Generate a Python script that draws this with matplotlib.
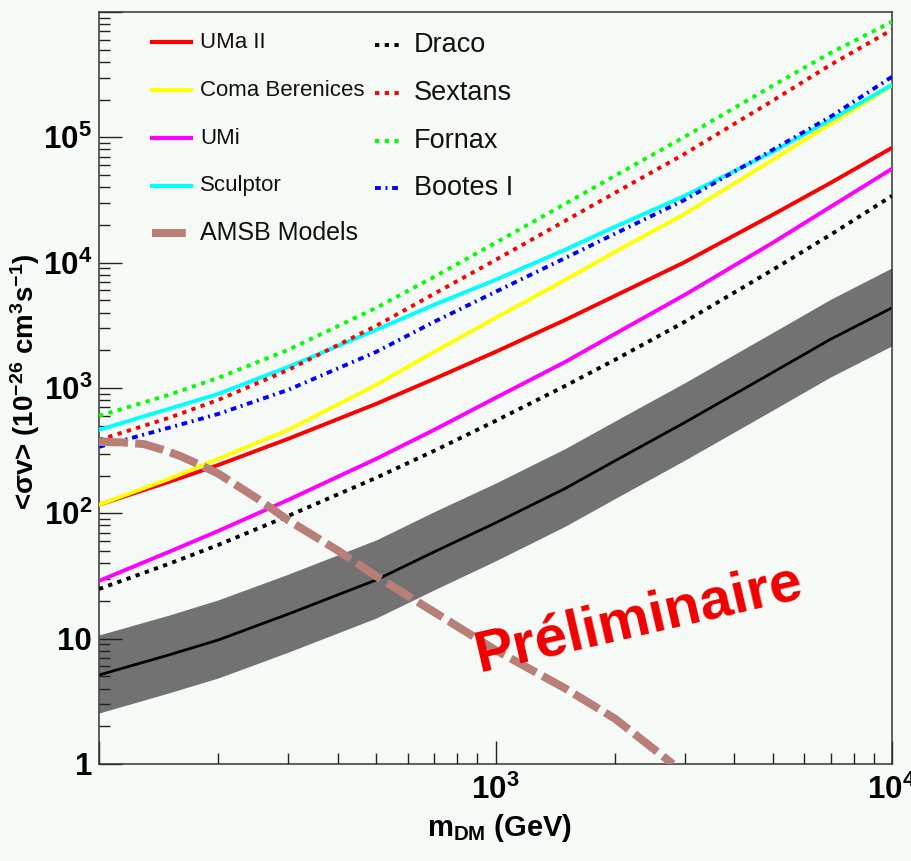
import numpy as np
import matplotlib
matplotlib.use("Agg")
import matplotlib.pyplot as plt
from matplotlib.ticker import FixedLocator, FixedFormatter, LogLocator, NullFormatter

plt.rcParams['font.family'] = ['Liberation Sans', 'DejaVu Sans']
plt.rcParams['mathtext.fontset'] = 'custom'
plt.rcParams['mathtext.rm'] = 'Liberation Sans:bold'
plt.rcParams['mathtext.it'] = 'Liberation Sans:bold'
plt.rcParams['mathtext.bf'] = 'Liberation Sans:bold'

# dark matter mass grid (GeV)
mass = [100, 150, 200, 300, 500, 700, 1000, 1500, 2000, 3000, 5000, 7000, 10000]

# <sigma v> upper limits, units of 1e-26 cm^3/s
uma2 = [117, 178, 243, 393, 747, 1182, 1941, 3495, 5430, 10100, 24100, 43300, 82500]
coma = [117, 188, 272, 463, 1059, 1941, 3625, 7290, 12200, 24500, 66100, 128000, 258000]
umi = [28.9, 49.2, 72.4, 128, 272, 463, 834, 1616, 2700, 5530, 14400, 27900, 56100]
sculptor = [463, 681, 897, 1473, 2910, 4610, 7290, 12700, 19300, 34100, 76600, 138000, 262000]
draco = [24.9, 39.5, 56, 95.3, 192, 315, 546, 1040, 1676, 3370, 8760, 16700, 34100]
sextans = [385, 577, 804, 1394, 3130, 5640, 10500, 21600, 36000, 73800, 196000, 379000, 721000]
fornax = [599, 881, 1205, 2015, 4360, 7700, 14400, 29500, 49300, 101000, 258000, 472000, 835000]
bootes = [339, 481, 621, 966, 1941, 3370, 5850, 10900, 17000, 31700, 79500, 146000, 304000]

# stacked limit with its band
band_mid = [5.13, 7.41, 9.77, 15.7, 29.4, 49.2, 83.8, 158, 262, 530, 1330, 2450, 4360]
band_hi = [10.7, 15.4, 20.4, 32.7, 61.3, 103, 174, 329, 545, 1100, 2770, 5100, 9090]
band_lo = [2.55, 3.69, 4.86, 7.8, 14.6, 24.5, 41.7, 79, 131, 265, 665, 1225, 2170]

# AMSB models
amsb_mass = [100, 115, 130, 145, 160, 180, 200, 250, 300, 400, 500, 700, 1000, 1500, 2000, 2800]
amsb = [371, 368, 356, 321, 287, 243, 207, 132, 88, 50.5, 31.5, 16.3, 8.1, 4.0, 2.3, 1.0]

BG = '#f6faf7'
AMSB_COL = '#b87f78'
dot = (0, (1.1, 1.4))
dashdot = (0, (1.5, 1.2, 0.5, 1.2))
amsb_dash = (0, (3.6, 0.9))

left_entries = [('UMa II', uma2, '#ff0000', '-'),
                ('Coma Berenices', coma, '#ffff00', '-'),
                ('UMi', umi, '#ff00ff', '-'),
                ('Sculptor', sculptor, '#00ffff', '-')]
right_entries = [('Draco', draco, '#000000', dot),
                 ('Sextans', sextans, '#ff0000', dot),
                 ('Fornax', fornax, '#00ff00', dot),
                 ('Bootes I', bootes, '#0000ff', dashdot)]

fig = plt.figure(figsize=(9.12, 8.61), dpi=100, facecolor=BG)
ax = fig.add_axes([0.1086, 0.1127, 0.8695, 0.8734], facecolor=BG)
ax.set_xscale('log')
ax.set_yscale('log')
ax.set_xlim(100, 10000)
ax.set_ylim(1, 1e6)

# band + central line
ax.fill_between(mass, band_lo, band_hi, color='#727272', lw=0, zorder=1)
ax.plot(mass, band_mid, color='black', lw=2.0, zorder=2)

for name, vals, col, ls in left_entries + right_entries:
    ax.plot(mass, vals, color=col, lw=2.8, linestyle=ls, zorder=3)

ax.plot(amsb_mass, amsb, color=AMSB_COL, lw=5.8, linestyle=amsb_dash, zorder=4)

ax.text(2300, 14.1, 'Préliminaire', color='#f00000', fontsize=42, fontweight='bold',
        rotation=13, ha='center', va='center', rotation_mode='anchor', zorder=6)

# legend drawn by hand, ROOT style
rows_l = [0.960, 0.896, 0.832, 0.769]
for (name, vals, col, ls), yy in zip(left_entries, rows_l):
    ax.plot([0.0668, 0.116], [yy, yy], transform=ax.transAxes, color=col, lw=3.0, linestyle=ls)
    ax.text(0.1274, yy, name, transform=ax.transAxes, fontsize=16, va='center', color='#111111')
ax.plot([0.0668, 0.116], [0.706, 0.706], transform=ax.transAxes, color=AMSB_COL,
        lw=5.8, linestyle=(0, (4.2, 0.9)))
ax.text(0.1274, 0.706, 'AMSB Models', transform=ax.transAxes, fontsize=18, va='center', color='#111111')

rows_r = [0.956, 0.892, 0.828, 0.766]
for (name, vals, col, ls), yy in zip(right_entries, rows_r):
    ax.plot([0.348, 0.382], [yy, yy], transform=ax.transAxes, color=col, lw=2.8, linestyle=ls)
    ax.text(0.397, yy, name, transform=ax.transAxes, fontsize=19.5, va='center', color='#111111')

# axes
ax.xaxis.set_major_locator(FixedLocator([100, 1000, 10000]))
ax.xaxis.set_major_formatter(FixedFormatter(['', r'$10^{3}$', r'$10^{4}$']))
ax.xaxis.set_minor_locator(LogLocator(base=10, subs=np.arange(2, 10)))
ax.xaxis.set_minor_formatter(NullFormatter())
ax.yaxis.set_major_locator(FixedLocator([1, 10, 100, 1e3, 1e4, 1e5, 1e6]))
ax.yaxis.set_major_formatter(FixedFormatter(['1', '10', r'$10^{2}$', r'$10^{3}$',
                                             r'$10^{4}$', r'$10^{5}$', '']))
ax.yaxis.set_minor_locator(LogLocator(base=10, subs=np.arange(2, 10)))
ax.yaxis.set_minor_formatter(NullFormatter())

ax.tick_params(which='both', direction='in', top=False, right=False, width=1, color='#222222')
ax.tick_params(which='major', length=16.5, labelsize=22.5)
ax.tick_params(which='minor', length=8)
ax.tick_params(axis='y', pad=5)
ax.tick_params(axis='x', pad=8)
for lab in ax.get_xticklabels() + ax.get_yticklabels():
    lab.set_fontweight('bold')
for sp in ax.spines.values():
    sp.set_color('#333333')
    sp.set_linewidth(1.1)

fig.text(0.548, 0.038, r'm$_{\mathrm{DM}}$ (GeV)', fontsize=21, fontweight='bold',
         ha='center', va='center')
fig.text(0.027, 0.557, r'<σv> (10$^{-26}$ cm$^{3}$s$^{-1}$)', fontsize=20, fontweight='bold',
         rotation=90, ha='center', va='center')

fig.savefig('out.png', dpi=100, facecolor=BG)
